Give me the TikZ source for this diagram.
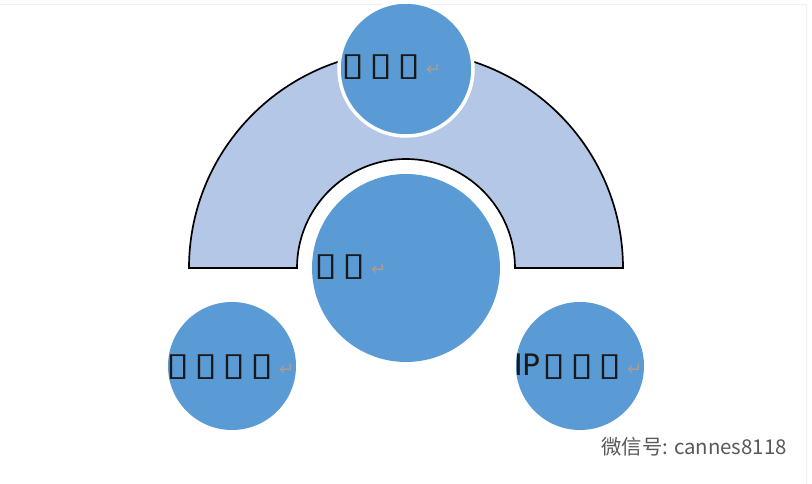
\documentclass[tikz,border=0pt]{standalone}
\usepackage{fontspec}
\usepackage{tikz}
\newfontfamily\symfont{DejaVu Sans}
\newfontfamily\cjk{Noto Sans CJK SC}
\definecolor{circblue}{HTML}{5B9BD5}
\definecolor{archblue}{HTML}{B4C7E7}
\definecolor{markgray}{HTML}{A89C94}
\newcommand{\retmark}{\textcolor{markgray}{\fontsize{13}{13}\selectfont\hspace{4pt}↵}}
\newcommand{\tofu}{\scalebox{1.3}[1]{▯}}
\newcommand{\gap}{\hspace{3.5pt}}

\begin{document}
\begin{tikzpicture}[x=0.025cm, y=-0.025cm, every node/.style={inner sep=0pt}, ball/.style={circle, fill=circblue, draw=white, line width=2.5pt}, lbl/.style={anchor=west, font=\symfont\fontsize{23}{23}\selectfont, text=black!90}]
			\useasboundingbox (0,0) rectangle (812,484);
			\fill[white] (0,0) rectangle (812,484);
			\draw[black!6] (0,4) -- (806,4) -- (806,484);
			
			% half ring behind the circles
			\draw[fill=archblue, line width=1.2pt] (189,268) arc[start angle=180, end angle=360, radius=217] -- (515,268) arc[start angle=0, end angle=-180, radius=109] -- cycle;
			
			\node[ball, minimum size=134*0.025cm] (top) at (406,69){};
			\node[ball, minimum size=188*0.025cm, draw=none] (mid) at (406,268){};
			\node[ball, minimum size=128*0.025cm, draw=none] (left) at (232,366){};
			\node[ball, minimum size=128*0.025cm, draw=none] (right) at (580,366){};
			
			\node[lbl] (toptext) at (341,67){\tofu\gap\tofu\gap\tofu\retmark};
			\node[lbl] (midtext) at (314,267){\tofu\gap\tofu\retmark};
			\node[lbl] (lefttext) at (166,367){\tofu\gap\tofu\gap\tofu\gap\tofu\retmark};
			\node[lbl] (righttext) at (514,367){{\fontsize{21}{21}\selectfont IP}\hspace{1pt}\tofu\gap\tofu\gap\tofu\retmark};
			
			\node[font=\cjk\fontsize{14.5}{14.5}\selectfont, text=black!65] (mark) at (694,447){微信号: cannes8118};
			\end{tikzpicture}
\end{document}
